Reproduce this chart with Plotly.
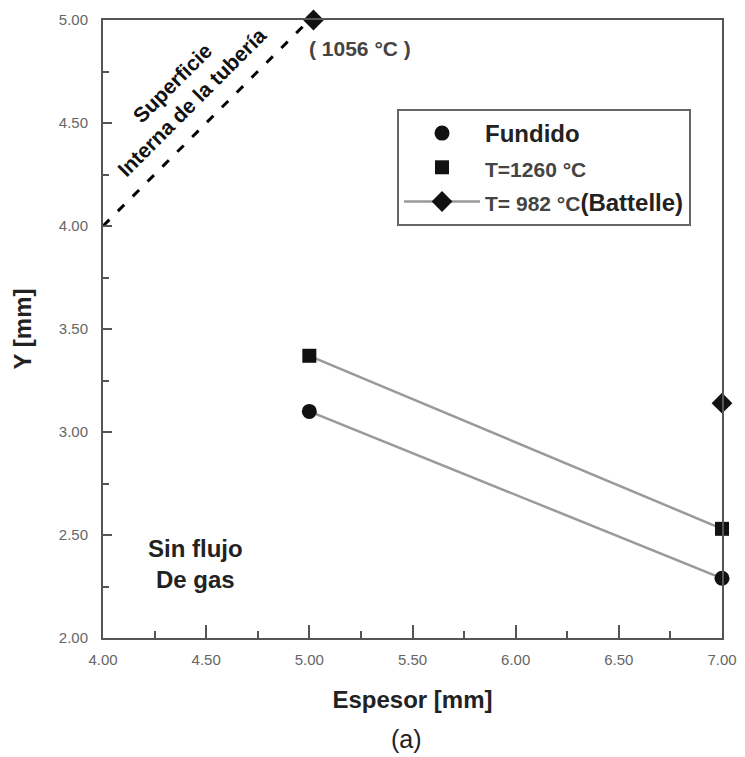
import plotly.graph_objects as go

# Data
espesor = [5.0, 7.0]
fundido_y = [3.10, 2.29]
t1260_y = [3.37, 2.53]
battelle_x = [5.02, 7.0]
battelle_y = [5.00, 3.14]
superficie_x = [4.0, 5.0]
superficie_y = [4.0, 5.0]
x_ticks = [4.0, 4.5, 5.0, 5.5, 6.0, 6.5, 7.0]
y_ticks = [2.0, 2.5, 3.0, 3.5, 4.0, 4.5, 5.0]

FONT = "Liberation Sans, Arial, sans-serif"
LINE_GRAY = "#9a9a9a"

fig = go.Figure()

# Dashed inner-surface line
fig.add_trace(go.Scatter(x=superficie_x, y=superficie_y, mode="lines",
                         line=dict(color="black", width=3, dash="9px,12px"),
                         showlegend=False, hoverinfo="skip"))

# Series with connecting lines (lines not in legend)
fig.add_trace(go.Scatter(x=espesor, y=fundido_y, mode="lines+markers",
                         line=dict(color=LINE_GRAY, width=2.5),
                         marker=dict(symbol="circle", size=15, color="#111"),
                         showlegend=False))
fig.add_trace(go.Scatter(x=espesor, y=t1260_y, mode="lines+markers",
                         line=dict(color=LINE_GRAY, width=2.5),
                         marker=dict(symbol="square", size=14, color="#111"),
                         showlegend=False))
fig.add_trace(go.Scatter(x=battelle_x, y=battelle_y, mode="markers",
                         marker=dict(symbol="diamond", size=16, color="#111"),
                         showlegend=False))

# Legend entries
fig.add_trace(go.Scatter(x=[None], y=[None], mode="markers",
                         name="<b><span style='font-size:24px'>Fundido</span></b>",
                         marker=dict(symbol="circle", size=15, color="#111")))
fig.add_trace(go.Scatter(x=[None], y=[None], mode="markers",
                         name="<b><span style='font-size:21px;color:#444'>T=1260 °C</span></b>",
                         marker=dict(symbol="square", size=14, color="#111")))
fig.add_trace(go.Scatter(x=[None], y=[None], mode="lines+markers",
                         name="<b><span style='font-size:21px;color:#444'>T= 982 °C</span><span style='font-size:24px'>(Battelle)</span></b>",
                         line=dict(color=LINE_GRAY, width=2.5),
                         marker=dict(symbol="diamond", size=16, color="#111")))

fig.update_traces(cliponaxis=False)

axis_common = dict(
    showgrid=False, zeroline=False, showline=True, mirror=True, automargin=False,
    linecolor="#555", linewidth=2, ticks="inside", tickcolor="#555",
    tickwidth=2, tickformat=".2f",
    tickfont=dict(family=FONT, size=15, color="#666"),
)

fig.update_xaxes(range=[4.0, 7.0], tickvals=x_ticks, ticklen=13, ticklabelstandoff=7,
                 minor=dict(dtick=0.25, ticks="inside", ticklen=7, tickcolor="#555", tickwidth=2),
                 title=dict(text="<b>Espesor [mm]</b>", font=dict(family=FONT, size=24, color="#222"),
                            standoff=24),
                 **axis_common)
fig.update_yaxes(range=[2.0, 5.0], tickvals=y_ticks, ticklen=9, ticklabelstandoff=10,
                 minor=dict(dtick=0.25, ticks="inside", ticklen=6, tickcolor="#555", tickwidth=2),
                 title=dict(text="<b>Y [mm]</b>", font=dict(family=FONT, size=24, color="#222"),
                            standoff=20),
                 **axis_common)

fig.add_annotation(x=4.385, y=4.65, xref="x", yref="y",
                   text="<b>Superficie<br>Interna de la tubería</b>", textangle=-45,
                   showarrow=False, font=dict(family=FONT, size=21, color="#111"))
fig.add_annotation(x=5.245, y=4.864, xref="x", yref="y", text="<b>( 1056 °C )</b>",
                   showarrow=False, font=dict(family=FONT, size=21, color="#444"))
fig.add_annotation(x=4.45, y=2.36, xref="x", yref="y", text="<b>Sin flujo<br>De gas</b>",
                   showarrow=False, align="center", font=dict(family=FONT, size=24, color="#222"))
fig.add_annotation(x=0.49, y=-0.19, xref="paper", yref="paper", text="(a)",
                   showarrow=False, font=dict(family=FONT, size=25, color="#222"))

fig.update_layout(
    width=737, height=749,
    margin=dict(l=95, r=23, t=12, b=119),
    paper_bgcolor="white", plot_bgcolor="white",
    legend=dict(x=0.475, y=0.856, xanchor="left", yanchor="top",
                bgcolor="white", bordercolor="#666", borderwidth=2,
                font=dict(family=FONT, size=24, color="#222"),
                itemwidth=76, tracegroupgap=0),
    showlegend=True,
)

fig.write_html("out.html")
